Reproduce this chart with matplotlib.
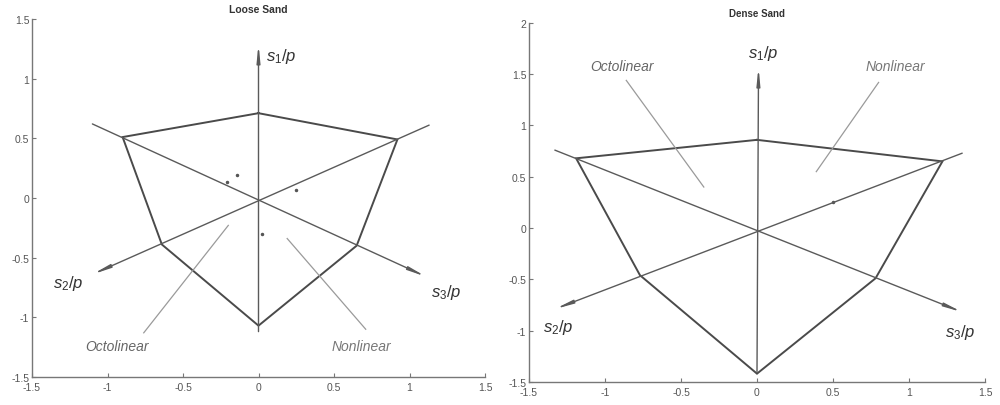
import matplotlib
matplotlib.use("Agg")
import matplotlib.pyplot as plt
import numpy as np

plt.rcParams['font.family'] = ['Liberation Sans', 'DejaVu Sans']
plt.rcParams['mathtext.fontset'] = 'custom'
plt.rcParams['mathtext.it'] = 'Liberation Sans:italic'
plt.rcParams['mathtext.rm'] = 'Liberation Sans'

# ---------------- Loose sand data ----------------
loose_title = "Loose Sand"
# hexagon vertices: top, upper-right, lower-right, bottom, lower-left, upper-left
loose_poly_x = [0.0, 0.92, 0.65, 0.0, -0.64, -0.90, 0.0]
loose_poly_y = [0.71, 0.49, -0.40, -1.07, -0.39, 0.51, 0.71]
# principal stress axes: (start, arrow tip)
loose_s1 = ((0.0, -1.12), (0.0, 1.29))
loose_s2 = ((1.13, 0.61), (-1.10, -0.64))
loose_s3 = ((-1.10, 0.62), (1.11, -0.66))
# leader lines (start near plot, end near text)
loose_oct_leader = ((-0.20, -0.23), (-0.76, -1.13))
loose_non_leader = ((0.19, -0.34), (0.71, -1.10))
loose_oct_text = (-0.94, -1.24)
loose_non_text = (0.68, -1.24)
loose_s1_label = (0.05, 1.19)
loose_s2_label = (-1.36, -0.71)
loose_s3_label = (1.14, -0.78)
loose_dots_x = [-0.14, -0.21, 0.25, 0.02]
loose_dots_y = [0.19, 0.13, 0.07, -0.30]
loose_xlim = (-1.5, 1.5)
loose_ylim = (-1.5, 1.5)
loose_xticks = [-1.5, -1, -0.5, 0, 0.5, 1, 1.5]
loose_yticks = [-1.5, -1, -0.5, 0, 0.5, 1, 1.5]

# ---------------- Dense sand data ----------------
dense_title = "Dense Sand"
dense_poly_x = [0.0, 1.22, 0.78, 0.0, -0.77, -1.19, 0.0]
dense_poly_y = [0.86, 0.65, -0.49, -1.42, -0.46, 0.68, 0.86]
dense_s1 = ((0.0, -1.40), (0.01, 1.57))
dense_s2 = ((1.35, 0.73), (-1.33, -0.79))
dense_s3 = ((-1.33, 0.76), (1.35, -0.82))
dense_oct_leader = ((-0.35, 0.40), (-0.86, 1.44))
dense_non_leader = ((0.39, 0.55), (0.80, 1.42))
dense_oct_text = (-0.89, 1.58)
dense_non_text = (0.91, 1.58)
dense_s1_label = (-0.06, 1.71)
dense_s2_label = (-1.41, -0.96)
dense_s3_label = (1.24, -1.01)
dense_dots_x = [0.50]
dense_dots_y = [0.25]
dense_xlim = (-1.5, 1.5)
dense_ylim = (-1.5, 2.0)
dense_xticks = [-1.5, -1, -0.5, 0, 0.5, 1, 1.5]
dense_yticks = [-1.5, -1, -0.5, 0, 0.5, 1, 1.5, 2]

POLY_C = '#4a4a4a'
AXIS_C = '#5a5a5a'
LEAD_C = '#9a9a9a'


def tick_fmt(v):
    return '%g' % v


def draw(ax, title, px, py, s1, s2, s3, oct_l, non_l, oct_t, non_t,
         l1, l2, l3, dx, dy, xlim, ylim, xt, yt, title_fs):
    # polygon
    ax.plot(px, py, color=POLY_C, lw=1.4, solid_joinstyle='miter')
    # axes with arrows
    for (a, b) in (s1, s2, s3):
        ax.annotate('', xy=b, xytext=a,
                    arrowprops=dict(arrowstyle='-|>,head_length=1.0,head_width=0.1',
                                    color=AXIS_C, lw=1.0, shrinkA=0, shrinkB=0))
    # leaders
    for (a, b) in (oct_l, non_l):
        ax.plot([a[0], b[0]], [a[1], b[1]], color=LEAD_C, lw=0.9)
    # stray dots
    ax.plot(dx, dy, ls='none', marker='o', ms=1.5, color='#555555')
    # texts
    ax.text(oct_t[0], oct_t[1], 'Octolinear', style='italic', color='#666666',
            fontsize=10, ha='center', va='center')
    ax.text(non_t[0], non_t[1], 'Nonlinear', style='italic', color='#777777',
            fontsize=10, ha='center', va='center')
    ax.text(l1[0], l1[1], r'$s_1/p$', fontsize=12, color='#333333', ha='left', va='center')
    ax.text(l2[0], l2[1], r'$s_2/p$', fontsize=12, color='#333333', ha='left', va='center')
    ax.text(l3[0], l3[1], r'$s_3/p$', fontsize=12, color='#333333', ha='left', va='center')

    ax.set_xlim(*xlim)
    ax.set_ylim(*ylim)
    ax.set_xticks(xt)
    ax.set_yticks(yt)
    ax.set_xticklabels([tick_fmt(v) for v in xt])
    ax.set_yticklabels([tick_fmt(v) for v in yt])
    for sp in ('top', 'right'):
        ax.spines[sp].set_visible(False)
    for sp in ('left', 'bottom'):
        ax.spines[sp].set_color('#777777')
        ax.spines[sp].set_linewidth(1.0)
    ax.tick_params(direction='in', length=3, width=0.8, colors='#777777',
                   labelsize=7.5, labelcolor='#555555')
    ax.tick_params(axis='x', pad=3.5)
    ax.tick_params(axis='y', pad=2)
    ax.set_title(title, fontsize=title_fs, fontweight='bold', color='#333333', pad=5)


fig = plt.figure(figsize=(10, 4.06), dpi=100)
ax1 = fig.add_axes([0.032, 0.069, 0.453, 0.882])
ax2 = fig.add_axes([0.529, 0.057, 0.456, 0.884])

draw(ax1, loose_title, loose_poly_x, loose_poly_y, loose_s1, loose_s2, loose_s3,
     loose_oct_leader, loose_non_leader, loose_oct_text, loose_non_text,
     loose_s1_label, loose_s2_label, loose_s3_label, loose_dots_x, loose_dots_y,
     loose_xlim, loose_ylim, loose_xticks, loose_yticks, 7.5)
draw(ax2, dense_title, dense_poly_x, dense_poly_y, dense_s1, dense_s2, dense_s3,
     dense_oct_leader, dense_non_leader, dense_oct_text, dense_non_text,
     dense_s1_label, dense_s2_label, dense_s3_label, dense_dots_x, dense_dots_y,
     dense_xlim, dense_ylim, dense_xticks, dense_yticks, 7)

fig.savefig('out.png', dpi=100)
